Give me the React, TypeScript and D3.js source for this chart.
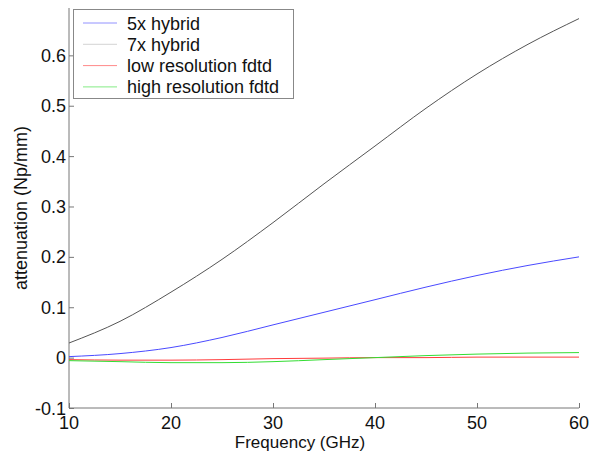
import React, { useEffect, useRef } from 'react';
import * as d3 from 'd3';

// frequency samples (GHz)
const freq = [10, 15, 20, 25, 30, 35, 40, 45, 50, 55, 60];
// attenuation values (Np/mm)
const hybrid5x = [0.002, 0.008, 0.02, 0.04, 0.065, 0.09, 0.115, 0.14, 0.163, 0.183, 0.2];
const hybrid7x = [0.029, 0.072, 0.13, 0.195, 0.268, 0.345, 0.42, 0.495, 0.563, 0.622, 0.673];
const lowResFdtd = [-0.004, -0.005, -0.005, -0.004, -0.002, -0.001, 0.0, 0.0, 0.001, 0.001, 0.001];
const highResFdtd = [-0.006, -0.008, -0.01, -0.01, -0.008, -0.004, 0.0, 0.004, 0.007, 0.009, 0.01];

const seriesNames = ['5x hybrid', '7x hybrid', 'low resolution fdtd', 'high resolution fdtd'];
const seriesColors = ['#4a4aff', '#555555', '#ff3b3b', '#33dd33'];
const xTicks = [10, 20, 30, 40, 50, 60];
const yTicks = [-0.1, 0, 0.1, 0.2, 0.3, 0.4, 0.5, 0.6];

const W = 600, H = 452;
const left = 69, right = 579, top = 8, bottom = 408;
const font = '"Liberation Sans", Arial, sans-serif';
const fs = '18px';

const App = () => {
  const ref = useRef<SVGSVGElement>(null);

  useEffect(() => {
    const svg = d3.select(ref.current);
    svg.selectAll('*').remove();

    const x = d3.scaleLinear().domain([10, 60]).range([left, right]);
    const y = d3.scaleLinear().domain([-0.1, 0.694]).range([bottom, top]);

    const allSeries = [hybrid5x, hybrid7x, lowResFdtd, highResFdtd];

    // axes (left + bottom only, inward ticks)
    const yAxis = d3.axisRight(y).tickValues(yTicks).tickSize(5).tickFormat(() => '');
    const gy = svg.append('g').attr('transform', `translate(${left},0)`).call(yAxis);
    gy.select('.domain').attr('stroke', '#777').attr('d', `M0,${top}V${bottom}`);
    gy.selectAll('.tick line').attr('stroke', '#777');

    const xAxis = d3.axisTop(x).tickValues(xTicks).tickSize(5).tickFormat(() => '');
    const gx = svg.append('g').attr('transform', `translate(0,${bottom})`).call(xAxis);
    gx.select('.domain').attr('stroke', '#777').attr('d', `M${left},0H${right}`);
    gx.selectAll('.tick line').attr('stroke', '#777');

    // tick labels
    svg.append('g').selectAll('text').data(yTicks).enter().append('text')
      .attr('x', left - 3)
      .attr('y', d => y(d) + 6.5)
      .attr('text-anchor', 'end')
      .style('font-family', font)
      .style('font-size', fs)
      .attr('fill', '#111')
      .text(d => (d === 0 ? '0' : String(d)));

    svg.append('g').selectAll('text').data(xTicks).enter().append('text')
      .attr('x', d => x(d))
      .attr('y', bottom + 21)
      .attr('text-anchor', 'middle')
      .style('font-family', font)
      .style('font-size', fs)
      .attr('fill', '#111')
      .text(d => String(d));

    // axis titles
    svg.append('text')
      .attr('x', 300)
      .attr('y', H - 4)
      .attr('text-anchor', 'middle')
      .style('font-family', font)
      .style('font-size', '17px')
      .attr('fill', '#111')
      .text('Frequency (GHz)');

    svg.append('text')
      .attr('transform', `translate(27,${(top + bottom) / 2}) rotate(-90)`)
      .attr('text-anchor', 'middle')
      .style('font-family', font)
      .style('font-size', fs)
      .attr('fill', '#111')
      .text('attenuation (Np/mm)');

    // curves
    const line = d3.line<number>()
      .x((_, i) => x(freq[i]))
      .y(d => y(d))
      .curve(d3.curveMonotoneX);

    allSeries.forEach((s, i) => {
      svg.append('path')
        .attr('d', line(s))
        .attr('fill', 'none')
        .attr('stroke', seriesColors[i])
        .attr('stroke-width', 1);
    });

    // legend
    const lg = svg.append('g');
    lg.append('rect')
      .attr('x', 73.5).attr('y', 9.5)
      .attr('width', 220).attr('height', 89)
      .attr('fill', '#fff').attr('stroke', '#888');
    seriesNames.forEach((name, i) => {
      const cy = 23 + i * 21.3;
      lg.append('line')
        .attr('x1', 83).attr('x2', 117)
        .attr('y1', cy).attr('y2', cy)
        .attr('stroke', seriesColors[i])
        .attr('stroke-opacity', i === 1 ? 0.25 : 0.6)
        .attr('stroke-width', 1);
      lg.append('text')
        .attr('x', 127).attr('y', cy + 6.5)
        .style('font-family', font)
        .style('font-size', fs)
        .attr('fill', '#111')
        .text(name);
    });
  }, []);

  return (
    <svg ref={ref} width={W} height={H}
      style={{ position: 'absolute', left: 0, top: 0, background: '#fff' }} />
  );
};

export default App;
